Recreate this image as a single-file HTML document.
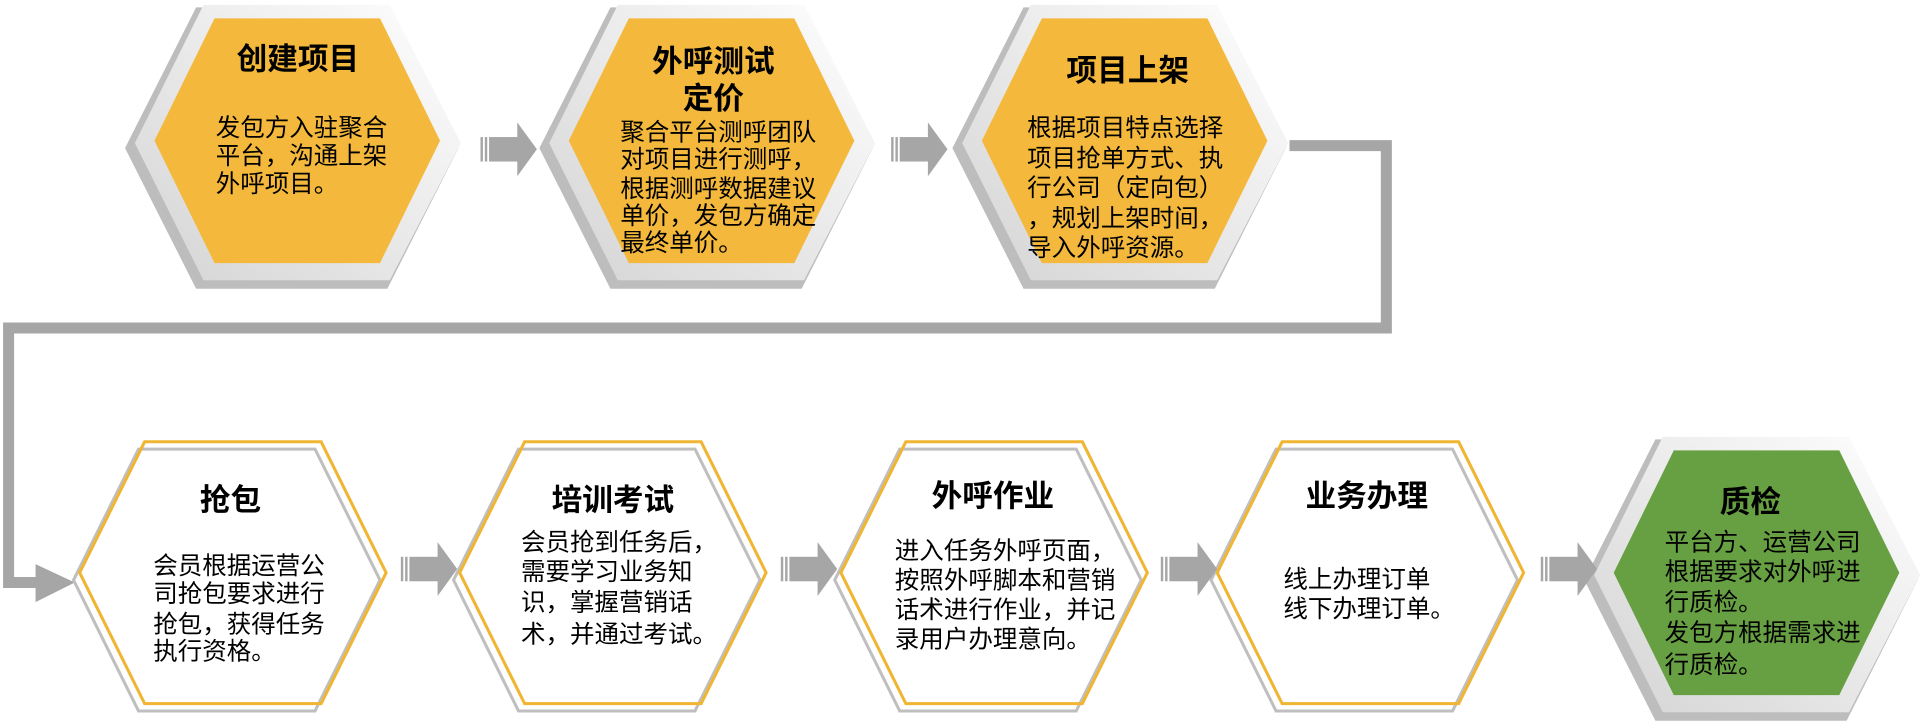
<!DOCTYPE html>
<html><head><meta charset="utf-8"><style>
html,body{margin:0;padding:0;background:#fff;}
svg{display:block;}
text{font-family:"Liberation Sans","Noto Sans CJK SC",sans-serif;fill:#000;}
.t{font-size:25px;font-weight:bold;text-anchor:middle;}
.b{font-size:20px;}
</style></head><body>
<svg width="1922" height="722" viewBox="0 0 1568 590" preserveAspectRatio="none" xmlns="http://www.w3.org/2000/svg">
<defs>
<linearGradient id="lg" x1="1" y1="0" x2="0" y2="1">
<stop offset="0" stop-color="#ffffff"/><stop offset="1" stop-color="#d4d4d4"/>
</linearGradient>
<g id="th">
<polygon points="102,121 160,6 316,6 374,121 316,236 160,236" fill="#bdbdbd"/>
<polygon points="110,117 166,4 318,4 376,117 318,229 166,229" fill="url(#lg)"/>
</g>
<g id="bh">
<polygon points="60,474 113,367 257,367 310,474 257,581 113,581" fill="none" stroke="#bfbfbf" stroke-width="2.5"/>
<polygon points="65,468 118,361 262,361 315,468 262,575 118,575" fill="none" stroke="#f0b532" stroke-width="2.5"/>
</g>
<g id="ar" fill="#a6a6a6">
<rect x="0" y="-10" width="2" height="20"/>
<rect x="3.5" y="-10" width="2" height="20"/>
<rect x="7" y="-10" width="24" height="20"/>
<polygon points="30,-22 46,0 30,22"/>
</g>
</defs>

<use href="#th"/>
<polygon points="126,115 175,15 310,15 359,115 310,215 175,215" fill="#f4b93c"/>
<g transform="translate(338,0)"><use href="#th"/><polygon points="126,115 175,15 310,15 359,115 310,215 175,215" fill="#f4b93c"/></g>
<g transform="translate(675,0)"><use href="#th"/><polygon points="126,115 175,15 310,15 359,115 310,215 175,215" fill="#f4b93c"/></g>

<polyline points="1052,119 1131,119 1131,268 7,268 7,476 35,476" fill="none" stroke="#a6a6a6" stroke-width="9"/>
<polygon points="29,461 61,476 29,492" fill="#a6a6a6"/>

<use href="#ar" transform="translate(392,122)"/>
<use href="#ar" transform="translate(727,122)"/>

<use href="#bh"/>
<use href="#bh" transform="translate(310,0)"/>
<use href="#bh" transform="translate(621,0)"/>
<use href="#bh" transform="translate(928,0)"/>
<g transform="translate(1190.5,353)"><use href="#th"/><polygon points="126,115 175,15 310,15 359,115 310,215 175,215" fill="#67a043"/></g>

<use href="#ar" transform="translate(327,465)"/>
<use href="#ar" transform="translate(637,465)"/>
<use href="#ar" transform="translate(947,465)"/>
<use href="#ar" transform="translate(1257,465)"/>

<text class="t" x="243" y="57">创建项目</text>
<text class="b" x="176" y="111">发包方入驻聚合</text>
<text class="b" x="176" y="134">平台，沟通上架</text>
<text class="b" x="176" y="157">外呼项目。</text>

<text class="t" x="582" y="59">外呼测试</text>
<text class="t" x="582" y="89">定价</text>
<text class="b" x="506" y="115">聚合平台测呼团队</text>
<text class="b" x="506" y="137">对项目进行测呼，</text>
<text class="b" x="506" y="161">根据测呼数据建议</text>
<text class="b" x="506" y="183">单价，发包方确定</text>
<text class="b" x="506" y="205">最终单价。</text>

<text class="t" x="920" y="66">项目上架</text>
<text class="b" x="838" y="111">根据项目特点选择</text>
<text class="b" x="838" y="136">项目抢单方式、执</text>
<text class="b" x="838" y="160">行公司（定向包）</text>
<text class="b" x="838" y="185">，规划上架时间，</text>
<text class="b" x="838" y="209">导入外呼资源。</text>

<text class="t" x="188" y="417">抢包</text>
<text class="b" x="125" y="469">会员根据运营公</text>
<text class="b" x="125" y="492">司抢包要求进行</text>
<text class="b" x="125" y="517">抢包，获得任务</text>
<text class="b" x="125" y="539">执行资格。</text>

<text class="t" x="500" y="417">培训考试</text>
<text class="b" x="425" y="450">会员抢到任务后，</text>
<text class="b" x="425" y="474">需要学习业务知</text>
<text class="b" x="425" y="499">识，掌握营销话</text>
<text class="b" x="425" y="525">术，并通过考试。</text>

<text class="t" x="810" y="414">外呼作业</text>
<text class="b" x="730" y="457">进入任务外呼页面，</text>
<text class="b" x="730" y="481">按照外呼脚本和营销</text>
<text class="b" x="730" y="505">话术进行作业，并记</text>
<text class="b" x="730" y="529">录用户办理意向。</text>

<text class="t" x="1115" y="414">业务办理</text>
<text class="b" x="1047" y="480">线上办理订单</text>
<text class="b" x="1047" y="504">线下办理订单。</text>

<text class="t" x="1428" y="419">质检</text>
<text class="b" x="1358" y="450">平台方、运营公司</text>
<text class="b" x="1358" y="474">根据要求对外呼进</text>
<text class="b" x="1358" y="499">行质检。</text>
<text class="b" x="1358" y="524">发包方根据需求进</text>
<text class="b" x="1358" y="550">行质检。</text>
</svg>
</body></html>
